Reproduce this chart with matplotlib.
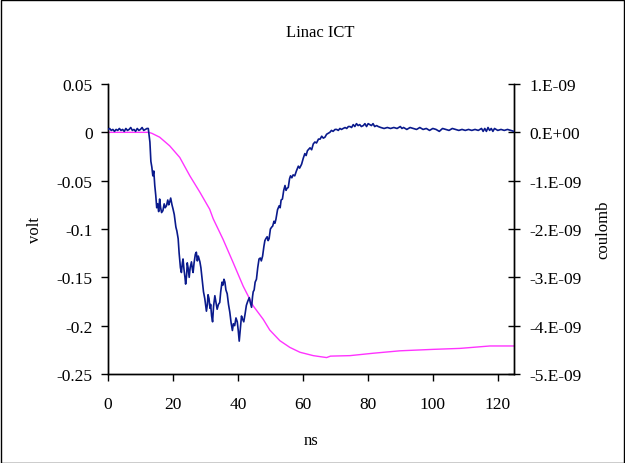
import matplotlib
matplotlib.use('Agg')
import matplotlib.pyplot as plt
from matplotlib.patches import Rectangle

# volt trace (left axis)
t_volt = [0.0, 0.5, 1.0, 1.5, 2.0, 2.5, 3.0, 3.5, 4.0, 4.5, 5.0, 5.5, 6.0, 6.5, 7.0, 7.5,
          8.0, 8.5, 9.0, 9.5, 10.0, 10.5, 11.0, 11.5, 12.0, 12.4,
          12.9, 13.2, 13.5, 13.8, 14.1, 14.4, 14.7, 15.0, 15.3, 15.6, 15.9, 16.2, 16.5, 16.9,
          17.3, 17.6, 18.0, 18.4, 18.7, 19.0, 19.3, 19.7, 20.0, 20.4, 20.9, 21.2, 21.6, 21.9,
          22.3, 22.6, 22.9, 23.1, 23.4, 23.7, 23.9, 24.2, 24.4, 24.7, 25.0, 25.3, 25.7, 26.0,
          26.2, 26.5, 26.9, 27.2, 27.5, 27.8, 28.3, 28.6, 29.0, 29.4, 29.8, 30.1, 30.3, 30.6,
          30.8, 31.1, 31.4, 31.6, 31.9, 32.2, 32.5, 32.9, 33.2, 33.6, 34.0, 34.4, 34.7, 35.1,
          35.4, 35.7, 36.0, 36.3, 36.7, 37.1, 37.5, 37.9, 38.3, 38.6, 39.0, 39.4, 39.8, 40.1,
          40.4, 40.7, 41.1, 41.4, 41.8, 42.2, 42.6, 43.0, 43.5, 43.8, 44.2, 44.5, 44.7, 45.0,
          45.3, 45.7, 46.1, 46.5, 46.9, 47.2, 47.6, 48.0, 48.3, 48.6, 49.0, 49.3, 49.6, 50.0,
          50.4, 50.7, 51.1, 51.4, 51.7, 52.2, 52.7, 53.0, 53.3, 53.7, 54.1, 54.5, 54.8, 55.1,
          55.5, 55.9, 56.2, 56.6, 57.0, 57.5, 58.0, 58.6, 59.0, 59.6, 60.1, 60.6, 61.0, 61.4,
          62.2, 62.7, 63.2, 63.7, 64.2, 64.8, 65.3, 65.8, 66.3, 66.8, 67.3, 67.8, 68.3, 68.8,
          69.3, 69.9, 70.4, 70.9, 71.4, 71.9, 72.4, 73.0, 73.5, 74.0, 74.5, 75.0, 75.5, 76.0,
          76.5, 77.0, 77.5, 78.0, 78.6, 79.1, 79.6, 80.1, 80.6, 81.1, 81.6, 82.1, 82.7, 83.2,
          84.0, 85.0, 86.0, 87.0, 88.0, 89.0, 90.0, 90.5, 91.0, 92.0, 93.0, 94.0, 95.0, 96.0,
          97.0, 98.0, 99.0, 100.0, 101.0, 102.0, 103.0, 104.0, 105.0, 106.0, 107.0, 108.0,
          109.0, 110.0, 111.0, 112.0, 113.0, 114.0, 115.0, 115.5, 116.0, 116.5, 117.0, 117.5,
          118.0, 118.5, 119.0, 120.0, 121.0, 122.0, 123.0, 124.0, 125.0]
volt = [0.003, 0.004, 0.002, 0.003, 0.001, 0.003, 0.002, 0.004, 0.002, 0.003, 0.001, 0.004,
        0.002, 0.003, 0.005, 0.002, 0.003, 0.001, 0.004, 0.002, 0.003, 0.005, 0.002, 0.003,
        0.004, 0.004,
        -0.010, -0.030, -0.036, -0.045, -0.040, -0.055, -0.065, -0.078, -0.074, -0.082, -0.069,
        -0.078, -0.083, -0.081, -0.074, -0.078, -0.076, -0.070, -0.075, -0.072, -0.068, -0.075,
        -0.079, -0.085, -0.098, -0.102, -0.110, -0.125, -0.140, -0.145, -0.135, -0.131, -0.142,
        -0.150, -0.157, -0.148, -0.135, -0.141, -0.150, -0.140, -0.134, -0.142, -0.145, -0.135,
        -0.126, -0.124, -0.133, -0.128, -0.134, -0.140, -0.152, -0.165, -0.172, -0.180, -0.185,
        -0.178, -0.168, -0.172, -0.182, -0.178, -0.190, -0.196, -0.180, -0.169, -0.175, -0.183,
        -0.178, -0.176, -0.165, -0.155, -0.158, -0.152, -0.155, -0.163, -0.167, -0.178, -0.186,
        -0.197, -0.205, -0.198, -0.200, -0.192, -0.196, -0.205, -0.216, -0.205, -0.190, -0.193,
        -0.196, -0.188, -0.179, -0.175, -0.171, -0.176, -0.181, -0.170, -0.165, -0.163, -0.155,
        -0.152, -0.140, -0.131, -0.130, -0.133, -0.128, -0.118, -0.112, -0.110, -0.108, -0.112,
        -0.110, -0.100, -0.098, -0.097, -0.092, -0.094, -0.090, -0.080, -0.076, -0.078, -0.070,
        -0.069, -0.060, -0.055, -0.060, -0.058, -0.057, -0.048, -0.045, -0.047, -0.044, -0.045,
        -0.040, -0.035, -0.037, -0.033, -0.027, -0.022, -0.024, -0.019, -0.016, -0.018, -0.012,
        -0.010, -0.011, -0.007, -0.007, -0.004, -0.006, -0.005, -0.002, -0.001, 0.000, 0.002,
        0.001, 0.003, 0.003, 0.002, 0.004, 0.003, 0.004, 0.005, 0.004, 0.006, 0.006, 0.005,
        0.008, 0.006, 0.009, 0.007, 0.008, 0.006, 0.007, 0.009, 0.006, 0.009, 0.008, 0.007,
        0.009, 0.006, 0.007, 0.006,
        0.005, 0.004, 0.005, 0.004, 0.005, 0.004, 0.006, 0.004, 0.005, 0.003, 0.005, 0.004,
        0.003, 0.005, 0.003, 0.004, 0.002, 0.004, 0.003, 0.001, 0.004, 0.003, 0.002, 0.004,
        0.003, 0.002, 0.003, 0.002, 0.003, 0.002, 0.003, 0.002, 0.004, 0.001, 0.004, 0.001,
        0.005, 0.002, 0.004, 0.001, 0.004, 0.002, 0.003, 0.002, 0.003, 0.002, 0.001]

# integrated charge (right axis)
t_charge = [0.0, 12.5, 13.5, 15.9, 19.0, 22.1, 25.2, 28.3, 31.3, 32.4, 35.4, 38.5, 41.6,
            44.7, 47.8, 49.8, 52.9, 56.0, 59.1, 63.2, 67.3, 68.5, 74.5, 81.7, 89.9, 100.2,
            108.4, 117.6, 125.0]
charge = [0.0, 0.0, -0.02e-9, -0.10e-9, -0.28e-9, -0.52e-9, -0.90e-9, -1.24e-9, -1.59e-9,
          -1.79e-9, -2.21e-9, -2.69e-9, -3.18e-9, -3.59e-9, -3.87e-9, -4.09e-9, -4.31e-9,
          -4.45e-9, -4.55e-9, -4.62e-9, -4.66e-9, -4.63e-9, -4.62e-9, -4.57e-9, -4.52e-9,
          -4.49e-9, -4.47e-9, -4.42e-9, -4.42e-9]

volt_ticks = [0.05, 0, -0.05, -0.1, -0.15, -0.2, -0.25]
volt_labels = ['0.05', '0', '-0.05', '-0.1', '-0.15', '-0.2', '-0.25']
charge_ticks = [1e-9, 0, -1e-9, -2e-9, -3e-9, -4e-9, -5e-9]
charge_labels = ['1.E-09', '0.E+00', '-1.E-09', '-2.E-09', '-3.E-09', '-4.E-09', '-5.E-09']
ns_ticks = [0, 20, 40, 60, 80, 100, 120]

plt.rcParams['font.family'] = ['Liberation Serif', 'DejaVu Serif']
plt.rcParams['font.size'] = 12

fig = plt.figure(figsize=(6.25, 4.64), dpi=100)
fig.patches.append(Rectangle((0.0008, 0.001), 0.9976, 0.997, transform=fig.transFigure,
                             fill=False, edgecolor='black', linewidth=1))
ax = fig.add_axes([0.1728, 0.1918, 0.6496, 0.625])
ax2 = ax.twinx()

ax.plot(t_volt, volt, color='#0a1a8c', linewidth=1.2, zorder=3)
ax2.plot(t_charge, charge, color='#ff33ff', linewidth=1.0)
ax.set_zorder(ax2.get_zorder() + 1)
ax.patch.set_visible(False)

ax.set_xlim(0, 125)
ax.set_ylim(-0.25, 0.05)
ax2.set_ylim(-5e-9, 1e-9)
ax.set_xticks(ns_ticks)
ax.set_yticks(volt_ticks)
ax.set_yticklabels(volt_labels)
ax2.set_yticks(charge_ticks)
ax2.set_yticklabels(charge_labels)

for a in (ax, ax2):
    a.spines['top'].set_visible(False)
    for s in a.spines.values():
        s.set_linewidth(1.0)
ax.tick_params(axis='y', direction='out', length=5, width=1, pad=6, labelsize=12.5)
ax.tick_params(axis='x', direction='out', length=5, width=1, pad=11, labelsize=12.5)
ax2.tick_params(axis='y', direction='inout', length=8, width=1, pad=7, labelsize=12.5)

ax.set_xlabel('ns', labelpad=14)
ax.set_ylabel('volt', labelpad=10)
ax2.set_ylabel('coulomb', labelpad=10)
fig.text(0.512, 0.929, 'Linac ICT', ha='center', va='center', fontsize=12)

fig.savefig('out.png', dpi=100)
